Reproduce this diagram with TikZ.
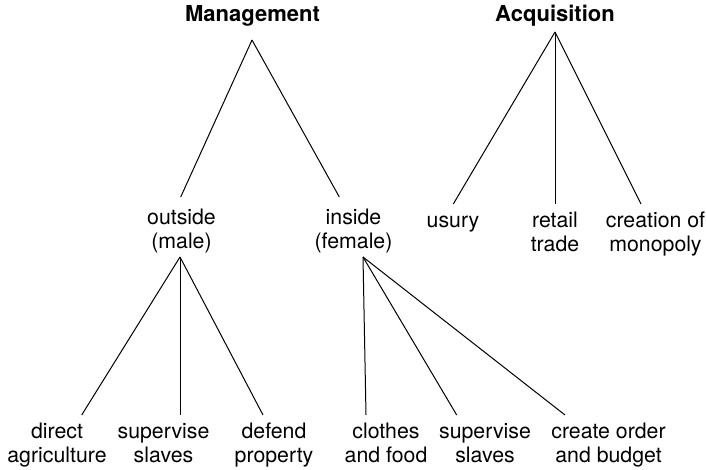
\documentclass[tikz,border=0pt]{standalone}
\usepackage{fontspec}
\setmainfont{TeX Gyre Heros}
\usetikzlibrary{calc}
\newcommand{\twoline}[2]{\begin{tabular}[t]{@{}c@{}}#1\\#2\end{tabular}}
\begin{document}
\begin{tikzpicture}[x=1pt,y=-1pt,
  lbl/.style={inner sep=0pt,anchor=base,font=\fontsize{21.3}{24}\selectfont},
  ttl/.style={inner sep=0pt,anchor=base,font=\fontsize{22}{24}\selectfont\bfseries},
  edge/.style={line width=1pt}]
\useasboundingbox (0,0) rectangle (706,470);
% titles
\node[ttl] (mgmt) at (252.5,22) {Management};
\node[ttl] (acq) at (555,22) {Acquisition};
% middle row
\node[lbl] (out) at (181.5,224.5) {\twoline{outside}{(male)}};
\node[lbl] (in) at (353.5,224.5) {\twoline{inside}{(female)}};
\node[lbl] (usury) at (453,228) {usury};
\node[lbl] (retail) at (555,228) {\twoline{retail}{trade}};
\node[lbl] (creat) at (655.5,228) {\twoline{creation of}{monopoly}};
% bottom row
\node[lbl] (direct) at (57,438) {\twoline{direct}{agriculture}};
\node[lbl] (supA) at (163.5,438) {\twoline{supervise}{slaves}};
\node[lbl] (defend) at (274,438) {\twoline{defend}{property}};
\node[lbl] (clothes) at (386,438) {\twoline{clothes}{and food}};
\node[lbl] (supB) at (485,438) {\twoline{supervise}{slaves}};
\node[lbl] (create) at (608.5,438) {\twoline{create order}{and budget}};
% connectors
\draw[edge] ($(mgmt.base)+(-0.5,18)$) -- ($(out.base)+(-0.8,-27.5)$);
\draw[edge] ($(mgmt.base)+(-0.5,18)$) -- ($(in.base)+(-14.2,-27.5)$);
\draw[edge] ($(acq.base)+(0,10)$) -- ($(usury.base)+(0.3,-24)$);
\draw[edge] ($(acq.base)+(0,10)$) -- ($(retail.base)+(0,-24)$);
\draw[edge] ($(acq.base)+(0,10)$) -- ($(creat.base)+(-14.5,-24)$);
\draw[edge] ($(out.base)+(-1.5,32.5)$) -- ($(direct.base)+(24.7,-23)$);
\draw[edge] ($(out.base)+(-1.5,32.5)$) -- ($(supA.base)+(16.5,-23)$);
\draw[edge] ($(out.base)+(-1.5,32.5)$) -- ($(defend.base)+(-11,-23)$);
\draw[edge] ($(in.base)+(9.5,32.5)$) -- ($(clothes.base)+(-20,-23)$);
\draw[edge] ($(in.base)+(9.5,32.5)$) -- ($(supB.base)+(-28.3,-23)$);
\draw[edge] ($(in.base)+(9.5,32.5)$) -- ($(create.base)+(-43.5,-23)$);
\end{tikzpicture}
\end{document}
